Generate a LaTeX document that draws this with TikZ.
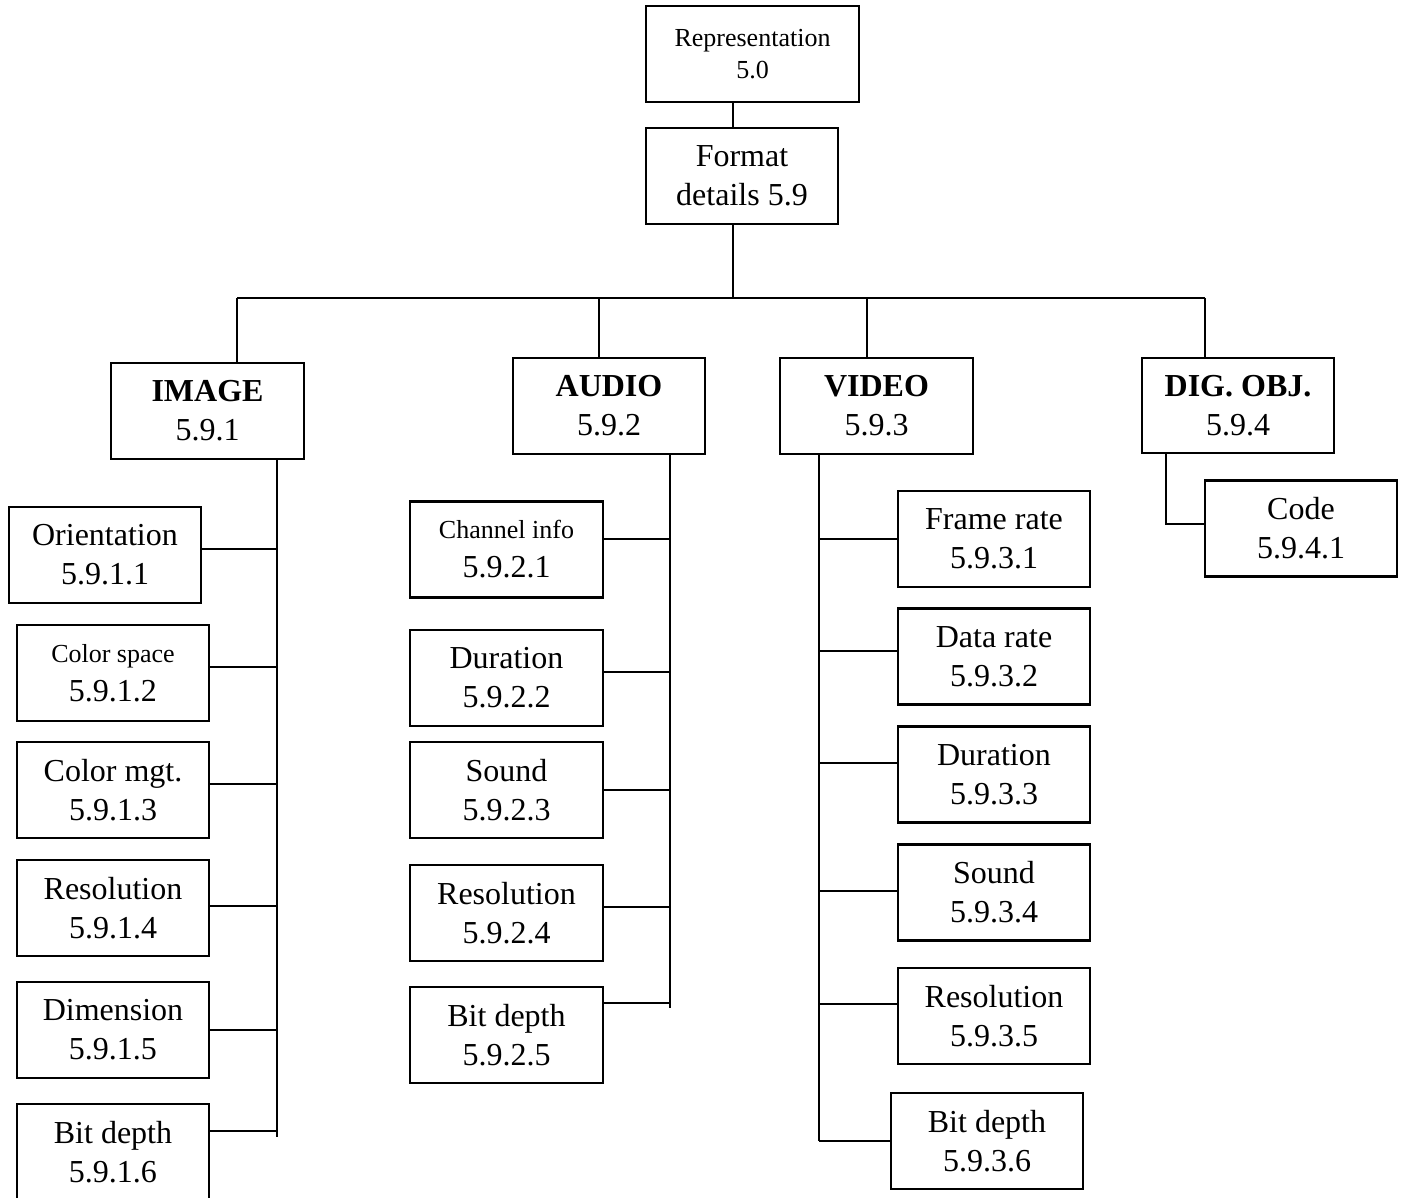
\documentclass[tikz,border=0pt]{standalone}
\usepackage{fontspec}
\setmainfont{Liberation Serif}
\newcommand{\mainsz}{\fontsize{16}{19.5}\selectfont}
\newcommand{\smallsz}{\fontsize{13}{16}\selectfont}
\begin{document}
\begin{tikzpicture}[x=0.5pt,y=-0.5pt,
  box/.style={draw, line width=1.1pt, minimum width=96pt, minimum height=48pt,
    inner sep=0pt, align=center, font=\mainsz},
  link/.style={line width=1pt}]
\useasboundingbox (0,0) rectangle (1405,1198);

% top of the hierarchy
\node[box, minimum width=106.5pt, font=\smallsz] (rep) at (752.5,54) {Representation\\5.0};
\node[box] (fmt) at (742,176) {Format\\details 5.9};

% media groups
\node[box, minimum width=96.5pt] (img) at (207.5,411) {\textbf{IMAGE}\\5.9.1};
\node[box] (aud) at (609,406) {\textbf{AUDIO}\\5.9.2};
\node[box, minimum width=96.5pt] (vid) at (876.5,406) {\textbf{VIDEO}\\5.9.3};
\node[box, minimum height=47.5pt] (dig) at (1238,405.5) {\textbf{DIG. OBJ.}\\5.9.4};

% image properties
\node[box] (i1) at (105,555) {Orientation\\5.9.1.1};
\node[box] (i2) at (113,673) {{\smallsz Color space}\\5.9.1.2};
\node[box] (i3) at (113,790) {Color mgt.\\5.9.1.3};
\node[box] (i4) at (113,908) {Resolution\\5.9.1.4};
\node[box] (i5) at (113,1030) {Dimension\\5.9.1.5};
\node[box] (i6) at (113,1152) {Bit depth\\5.9.1.6};

% audio properties
\node[box, minimum width=96.5pt] (a1) at (506.5,549.5) {{\smallsz Channel info}\\5.9.2.1};
\node[box, minimum width=96.5pt] (a2) at (506.5,678) {Duration\\5.9.2.2};
\node[box, minimum width=96.5pt] (a3) at (506.5,790) {Sound\\5.9.2.3};
\node[box, minimum width=96.5pt] (a4) at (506.5,913) {Resolution\\5.9.2.4};
\node[box, minimum width=96.5pt] (a5) at (506.5,1035) {Bit depth\\5.9.2.5};

% video properties
\node[box] (v1) at (994,539) {Frame rate\\5.9.3.1};
\node[box] (v2) at (994,656.5) {Data rate\\5.9.3.2};
\node[box] (v3) at (994,774.5) {Duration\\5.9.3.3};
\node[box] (v4) at (994,892.5) {Sound\\5.9.3.4};
\node[box] (v5) at (994,1016) {Resolution\\5.9.3.5};
\node[box] (v6) at (987,1141) {Bit depth\\5.9.3.6};

% digital object property
\node[box] (code) at (1301,528.5) {Code\\5.9.4.1};

% bus and trunk points
\coordinate (spine) at (733,298);
\coordinate (busL) at (237,298);
\coordinate (busR) at (1205,298);
\coordinate (bA) at (599,298);
\coordinate (bV) at (867,298);
\coordinate (iT) at (277,1137);
\coordinate (aT) at (670,1008);
\coordinate (vT) at (819,1141);
\coordinate (dT) at (1166,524);

% upper links and bus
\draw[link] (rep.south -| spine) -- (fmt.north -| spine);
\draw[link] (fmt.south -| spine) -- (spine);
\draw[link] (busL) -- (busR);
\draw[link] (busL) -- (busL |- img.north);
\draw[link] (bA) -- (bA |- aud.north);
\draw[link] (bV) -- (bV |- vid.north);
\draw[link] (busR) -- (busR |- dig.north);

% image trunk
\draw[link] (iT |- img.south) -- (iT);
\foreach \n/\yy in {i1/549, i2/667, i3/784, i4/906, i5/1030, i6/1131}
  \draw[link] (\n.east |- 0,\yy) -- (iT |- 0,\yy);

% audio trunk
\draw[link] (aT |- aud.south) -- (aT);
\foreach \n/\yy in {a1/539, a2/672, a3/790, a4/907, a5/1003}
  \draw[link] (\n.east |- 0,\yy) -- (aT |- 0,\yy);

% video trunk
\draw[link] (vT |- vid.south) -- (vT);
\foreach \n/\yy in {v1/539, v2/651, v3/763, v4/891, v5/1004, v6/1141}
  \draw[link] (vT |- 0,\yy) -- (\n.west |- 0,\yy);

% digital object link
\draw[link] (dT |- dig.south) -- (dT) -- (code.west |- dT);
\end{tikzpicture}
\end{document}
